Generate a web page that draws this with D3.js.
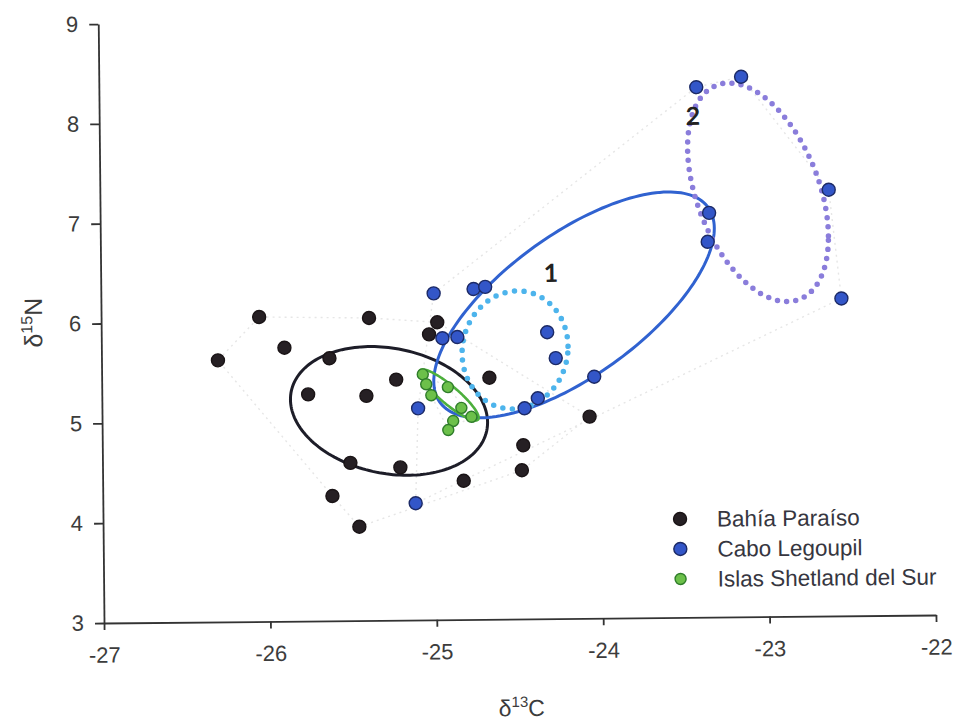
<!DOCTYPE html>
<html>
<head>
<meta charset="utf-8">
<script src="https://cdn.jsdelivr.net/npm/d3@7"></script>
<style>
    body { margin: 0; background: #fff; }
    svg { display: block; }
    .axis path, .axis line { stroke: #333; stroke-width: 1.8px; }
    .axis text { font-family: "Liberation Sans", Arial, sans-serif; font-size: 22px; fill: #3c3c3c; }
    .axis-title { font-family: "Liberation Sans", Arial, sans-serif; fill: #3c3c3c; }
    .legend text { font-family: "Liberation Sans", Arial, sans-serif; font-size: 22.5px; fill: #363640; }
    .group-label { font-family: Lato, "Open Sans", sans-serif; font-weight: bold; font-size: 25px; fill: #222; }
</style>
</head>
<body>
<div id="chart"></div>
<script>
// sites
const sites = ["Bahía Paraíso", "Cabo Legoupil", "Islas Shetland del Sur"];

// Bahía Paraíso
const bahiaC = [-26.30, -26.05, -25.90, -25.76, -25.63, -25.62, -25.51, -25.46, -25.41, -25.39,
                -25.21, -25.23, -24.98, -25.03, -24.67, -24.07, -24.47, -24.48, -24.83];
const bahiaN = [5.62, 6.05, 5.74, 5.27, 5.63, 4.25, 4.58, 3.94, 5.25, 6.03,
                4.53, 5.41, 5.98, 5.86, 5.42, 5.02, 4.74, 4.49, 4.39];

// Cabo Legoupil
const caboC = [-25.00, -24.76, -24.69, -24.95, -24.86, -25.10, -25.12, -24.32, -24.27,
               -24.04, -24.38, -24.46, -23.41, -23.14, -22.62, -23.34, -23.35, -22.55];
const caboN = [6.27, 6.31, 6.33, 5.82, 5.83, 5.12, 4.17, 5.87, 5.61,
               5.42, 5.21, 5.11, 8.31, 8.41, 7.27, 7.05, 6.76, 6.18];

// Islas Shetland del Sur
const islasC = [-25.07, -25.05, -25.02, -24.92, -24.84, -24.78, -24.89, -24.92];
const islasN = [5.46, 5.36, 5.25, 5.33, 5.12, 5.03, 4.99, 4.90];

// standard ellipses (centre, variances and covariance in per mil units)
const ellipseNames = ["bahia", "cabo1", "cabo1b", "cabo2", "islas"];
const ellipseCx   = [-25.275, -24.157, -24.514, -23.045, -24.913];
const ellipseCy   = [5.097, 6.141, 5.695, 7.251, 5.251];
const ellipseVarC = [0.350, 0.718, 0.1015, 0.177, 0.0311];
const ellipseVarN = [0.418, 1.259, 0.3495, 1.204, 0.0666];
const ellipseCov  = [-0.0723, 0.641, 0.01, -0.187, -0.0406];

// group number labels
const groupLabels = ["1", "2"];
const groupLabelC = [-24.294, -23.432];
const groupLabelN = [6.374, 7.933];

const xTicks = [-27, -26, -25, -24, -23, -22];
const yTicks = [3, 4, 5, 6, 7, 8, 9];

// ---- styles ----
const siteStyle = {
    "Bahía Paraíso": {fill: "#262024", stroke: "#1a1416", r: 6.5},
    "Cabo Legoupil": {fill: "#3356c8", stroke: "#1c2a66", r: 6.5},
    "Islas Shetland del Sur": {fill: "#6cc04a", stroke: "#2f7d2a", r: 5.5}
};
const ellipseStyle = {
    bahia:  {stroke: "#1d1d28", width: 3, dash: null},
    cabo1:  {stroke: "#3062d0", width: 3, dash: null},
    cabo1b: {stroke: "#4db4ec", width: 5.5, dash: "0 9.6"},
    cabo2:  {stroke: "#8a7ddb", width: 5.5, dash: "0 9.2"},
    islas:  {stroke: "#4caf3c", width: 2.6, dash: null}
};

let width = 956, height = 721;

let svg = d3.select("#chart").append("svg")
    .attr("width", width)
    .attr("height", height);

// the scanned figure sits slightly rotated
let vis = svg.append("g")
    .attr("transform", "rotate(-0.55, 104, 623)");

let x = d3.scaleLinear().domain([-27, -22]).range([104, 936]);
let y = d3.scaleLinear().domain([3, 9]).range([623, 24]);

// axes
vis.append("g")
    .attr("class", "axis x-axis")
    .attr("transform", `translate(0, ${y(3)})`)
    .call(d3.axisBottom(x).tickValues(xTicks).tickFormat(d => String(d))
        .tickSize(7).tickSizeOuter(0).tickPadding(17));

vis.append("g")
    .attr("class", "axis y-axis")
    .attr("transform", `translate(${x(-27)}, 0)`)
    .call(d3.axisLeft(y).tickValues(yTicks).tickFormat(d => String(d))
        .tickSize(9).tickSizeOuter(0).tickPadding(11));

// axis titles
let xt = vis.append("text")
    .attr("class", "axis-title")
    .attr("x", 521)
    .attr("y", 720)
    .attr("text-anchor", "middle")
    .style("font-size", "23px");
xt.append("tspan").text("δ");
xt.append("tspan").attr("dy", -9).style("font-size", "15px").text("13");
xt.append("tspan").attr("dy", 9).text("C");

let yt = vis.append("text")
    .attr("class", "axis-title")
    .attr("transform", "translate(45, 322) rotate(-90)")
    .attr("text-anchor", "middle")
    .style("font-size", "25px");
yt.append("tspan").text("δ");
yt.append("tspan").attr("dy", -10).style("font-size", "16px").text("15");
yt.append("tspan").attr("dy", 10).text("N");

// points per site
let siteData = [
    {site: sites[0], pts: bahiaC.map((c, i) => [c, bahiaN[i]])},
    {site: sites[1], pts: caboC.map((c, i) => [c, caboN[i]])},
    {site: sites[2], pts: islasC.map((c, i) => [c, islasN[i]])}
];

// convex hulls (very faint dotted)
siteData.forEach(s => {
    let hull = d3.polygonHull(s.pts.map(p => [x(p[0]), y(p[1])]));
    vis.append("path")
        .attr("d", "M" + hull.join("L") + "Z")
        .attr("fill", "none")
        .attr("stroke", "#e6e6e6")
        .attr("stroke-width", 1.4)
        .attr("stroke-dasharray", "2 4");
});

// ellipses
function ellipsePath(i) {
    let l11 = Math.sqrt(ellipseVarC[i]);
    let l21 = ellipseCov[i] / l11;
    let l22 = Math.sqrt(ellipseVarN[i] - l21 * l21);
    let pts = d3.range(0, 360, 2).map(deg => {
        let t = deg * Math.PI / 180;
        let u = Math.cos(t), v = Math.sin(t);
        return [x(ellipseCx[i] + l11 * u), y(ellipseCy[i] + l21 * u + l22 * v)];
    });
    return d3.line().curve(d3.curveLinearClosed)(pts);
}

ellipseNames.forEach((name, i) => {
    let st = ellipseStyle[name];
    vis.append("path")
        .attr("class", "ellipse " + name)
        .attr("d", ellipsePath(i))
        .attr("fill", "none")
        .attr("stroke", st.stroke)
        .attr("stroke-width", st.width)
        .attr("stroke-linecap", "round")
        .attr("stroke-dasharray", st.dash);
});

// points
siteData.forEach(s => {
    let st = siteStyle[s.site];
    vis.append("g").selectAll("circle")
        .data(s.pts)
        .enter()
        .append("circle")
        .attr("cx", d => x(d[0]))
        .attr("cy", d => y(d[1]))
        .attr("r", st.r)
        .attr("fill", st.fill)
        .attr("stroke", st.stroke)
        .attr("stroke-width", 1.4);
});

// group labels
vis.selectAll(".group-label")
    .data(groupLabels)
    .enter()
    .append("text")
    .attr("class", "group-label")
    .attr("x", (d, i) => x(groupLabelC[i]))
    .attr("y", (d, i) => y(groupLabelN[i]))
    .attr("text-anchor", "middle")
    .text(d => d);

// legend
let legend = vis.append("g")
    .attr("class", "legend")
    .attr("transform", "translate(681, 524.5)");

let items = legend.selectAll("g")
    .data(sites)
    .enter()
    .append("g")
    .attr("transform", (d, i) => `translate(0, ${i * 30})`);

items.append("circle")
    .attr("r", d => siteStyle[d].r)
    .attr("fill", d => siteStyle[d].fill)
    .attr("stroke", d => siteStyle[d].stroke)
    .attr("stroke-width", 1.4);

items.append("text")
    .attr("x", 37)
    .attr("y", 8)
    .text(d => d);
</script>
</body>
</html>
